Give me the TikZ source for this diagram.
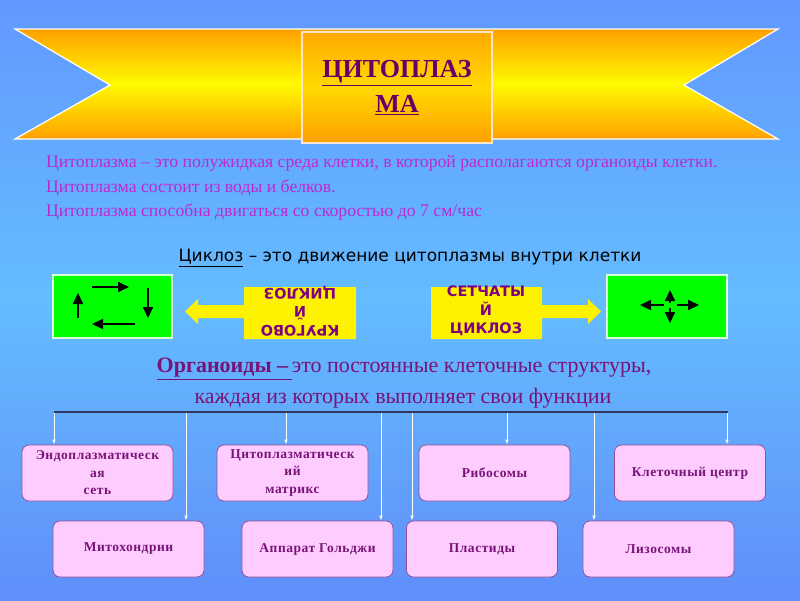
\documentclass[tikz,border=0pt]{standalone}
\usepackage{fontspec}
\setmainfont{Liberation Serif}
\newfontfamily\sansf{DejaVu Sans}
\newfontfamily\boxfont[LetterSpace=4]{Liberation Serif}
\usetikzlibrary{arrows.meta}
\definecolor{bgtop}{RGB}{98,152,255}
\definecolor{bgmid}{RGB}{100,188,255}
\definecolor{bgbot}{RGB}{96,142,250}
\definecolor{ribor}{RGB}{255,160,0}
\definecolor{ribye}{RGB}{255,250,0}
\definecolor{titlec}{RGB}{102,0,102}
\definecolor{parac}{RGB}{190,40,210}
\definecolor{orgc}{RGB}{120,20,120}
\definecolor{boxfill}{RGB}{255,204,255}
\definecolor{boxdraw}{RGB}{150,80,150}
\definecolor{boxtext}{RGB}{120,20,120}
\definecolor{ylabel}{RGB}{128,0,128}
\definecolor{linec}{RGB}{45,55,95}
\tikzset{
  orgbox/.style={draw=boxdraw, fill=boxfill, rounded corners=7pt, line width=0.8pt,
    minimum width=151pt, minimum height=56pt, align=center, text=boxtext,
    font=\boxfont\bfseries\fontsize{13.5}{17.5}\selectfont, inner sep=0pt},
  conn/.style={white, line width=0.9pt, -{Latex[length=5pt,width=3.5pt]}},
  greenbox/.style={fill=green, draw=white!85!green, line width=1.2pt},
  garrow/.style={line width=2pt, -{Triangle[length=11pt,width=10pt]}},
  ylw/.style={fill=yellow},
  ytext/.style={text=ylabel, align=center, font=\sansf\bfseries\fontsize{14.5}{18.5}\selectfont, inner sep=0pt},
  paratext/.style={anchor=west, text=parac, font=\fontsize{17.7}{20}\selectfont, inner sep=0pt},
  orgtext/.style={text=orgc, font=\fontsize{22}{26}\selectfont, inner sep=0pt},
}
\begin{document}
\begin{tikzpicture}[x=1pt,y=-1pt]
\useasboundingbox (0,0) rectangle (800,600);
\fill[top color=bgtop, bottom color=bgbot, middle color=bgmid] (0,0) rectangle (800,600);
% ribbon
\draw[white, line width=1.2pt, top color=ribor, bottom color=ribor, middle color=ribye]
  (15,29) -- (778,29) -- (684,85) -- (778,139) -- (15,139) -- (110,85) -- cycle;
\draw[white!80!orange, line width=1.2pt, top color=ribor!90!yellow, bottom color=ribor, middle color=ribor!40!yellow]
  (302,32) rectangle (492,143);
\node[text=titlec, font=\bfseries\fontsize{26}{30}\selectfont, inner sep=0pt] (t1) at (397,73) {\underline{ЦИТОПЛАЗ}};
\node[text=titlec, font=\bfseries\fontsize{26}{30}\selectfont, inner sep=0pt] (t2) at (397,105) {\underline{МА}};
% paragraph
\node[paratext] (p1) at (46,163) {Цитоплазма – это полужидкая среда клетки, в которой располагаются органоиды клетки.};
\node[paratext] (p2) at (46,188) {Цитоплазма состоит из воды и белков.};
\node[paratext] (p3) at (46,212) {Цитоплазма способна двигаться со скоростью до 7 см/час};
% cyclosis
\node[font=\sansf\fontsize{17}{20}\selectfont, inner sep=0pt] (cyc) at (410,258) {\underline{Циклоз} – это движение цитоплазмы внутри клетки};
% green boxes
\draw[greenbox] (53,275) rectangle (172,338);
\draw[greenbox] (607,275) rectangle (727,338);
\draw[garrow] (78,318) -- (78,293);
\draw[garrow] (92,287) -- (129,287);
\draw[garrow] (148,288) -- (148,318);
\draw[garrow] (135,324) -- (92,324);
\draw[garrow] (670,303) -- (670,290);
\draw[garrow] (670,308) -- (670,323);
\draw[garrow] (664,305) -- (640,305);
\draw[garrow] (677,305) -- (699,305);
% yellow arrows
\fill[ylw] (356,287) -- (356,339) -- (244,339) -- (244,318) -- (198,318) -- (198,324) -- (185,311.5)
  -- (198,299) -- (198,305) -- (244,305) -- (244,287) -- cycle;
\fill[ylw] (431,287) -- (431,339) -- (542,339) -- (542,318) -- (588,318) -- (588,324) -- (601,311.5)
  -- (588,299) -- (588,305) -- (542,305) -- (542,287) -- cycle;
\node[ytext, rotate=180] (kr) at (300,311) {КРУГОВО\\Й\\ЦИКЛОЗ};
\node[ytext] (se) at (486,311) {СЕТЧАТЫ\\Й\\ЦИКЛОЗ};
% organoids
\node[orgtext] (o1) at (404,369) {\underline{\textbf{Органоиды –\,}}это постоянные клеточные структуры,};
\node[orgtext] (o2) at (403,398) {каждая из которых выполняет свои функции};
\coordinate (hl) at (54,412);
\coordinate (hr) at (728,412);
% boxes
\node[orgbox] (er) at (97.5,473) {Эндоплазматическ\\ая\\сеть};
\node[orgbox] (cm) at (292.5,473) {Цитоплазматическ\\ий\\матрикс};
\node[orgbox] (rb) at (494.5,473) {Рибосомы};
\node[orgbox] (kc) at (690,473) {Клеточный центр};
\node[orgbox] (mt) at (128.5,549) {Митохондрии};
\node[orgbox] (ag) at (317.5,549) {Аппарат Гольджи};
\node[orgbox] (pl) at (482,549) {Пластиды};
\node[orgbox] (lz) at (658.5,549) {Лизосомы};
% connectors
\coordinate (c1) at (54,412);
\coordinate (c2) at (186,412);
\coordinate (c3) at (286,412);
\coordinate (c4) at (381,412);
\coordinate (c5) at (412,412);
\coordinate (c6) at (507,412);
\coordinate (c7) at (594,412);
\coordinate (c8) at (727,412);
\draw[conn] (c1) -- (c1 |- er.north);
\draw[conn] (c2) -- (c2 |- mt.north);
\draw[conn] (c3) -- (c3 |- cm.north);
\draw[conn] (c4) -- (c4 |- ag.north);
\draw[conn] (c5) -- (c5 |- pl.north);
\draw[conn] (c6) -- (c6 |- rb.north);
\draw[conn] (c7) -- (c7 |- lz.north);
\draw[conn] (c8) -- (c8 |- kc.north);
\draw[linec, line width=2pt] (hl) -- (hr);
\end{tikzpicture}
\end{document}
